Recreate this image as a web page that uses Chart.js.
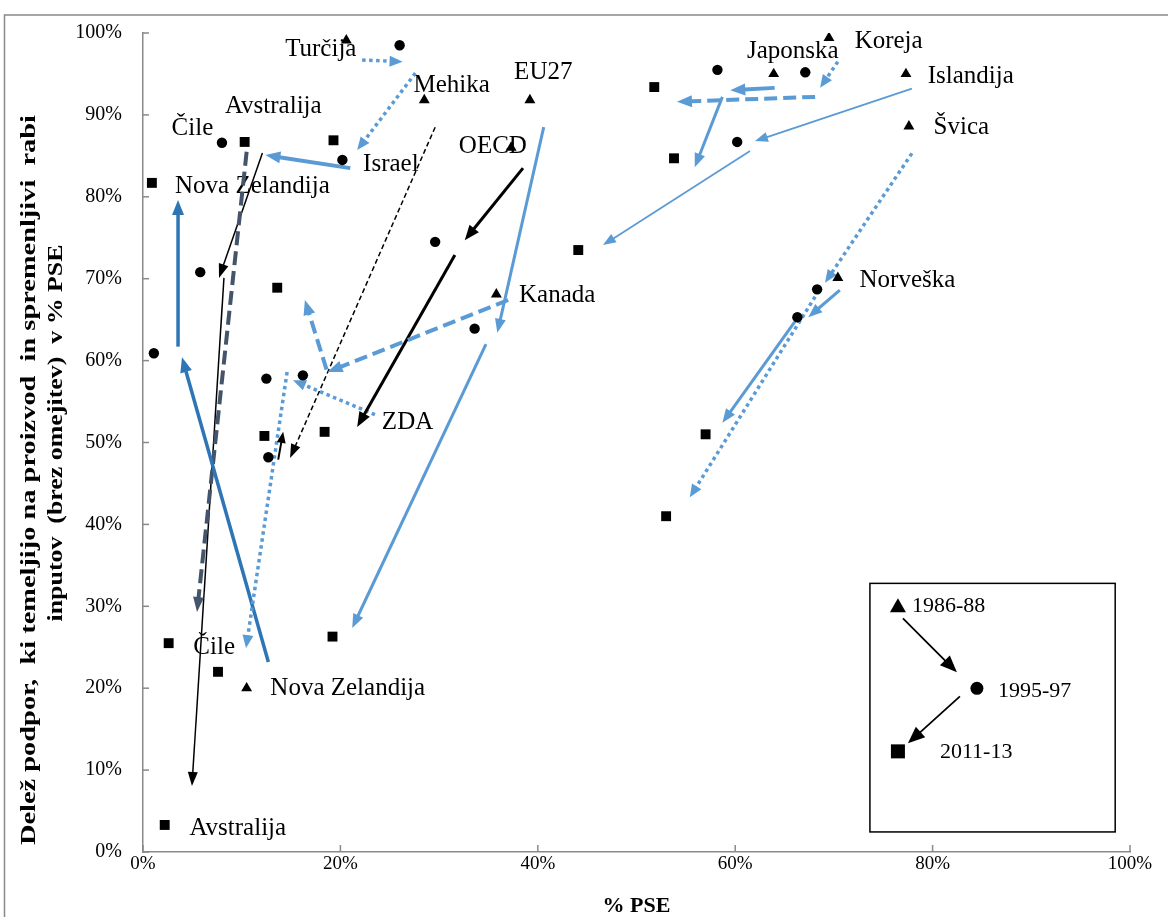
<!DOCTYPE html>
<html><head><meta charset="utf-8">
<script src="https://cdn.jsdelivr.net/npm/chart.js@4.4.0/dist/chart.umd.min.js"></script>
<style>html,body{margin:0;padding:0;background:#fff}canvas{display:block}</style>
</head><body>
<canvas id="c" width="1168" height="917"></canvas>
<script>
// ---- tick values ----
const xTickValues = [0, 20, 40, 60, 80, 100];
const yTickValues = [0, 10, 20, 30, 40, 50, 60, 70, 80, 90, 100];

// ---- markers (x = % PSE, y = share %) ----
const p1986X = [20.6, 28.5, 39.2, 37.3, 69.5, 63.9, 77.3, 77.6, 70.4, 35.8, 10.5];
const p1986Y = [99.1, 91.8, 91.8, 86.0, 99.4, 95.0, 95.0, 88.6, 70.1, 68.1, 20.0];
const p1995X = [26.0, 8.0, 20.2, 5.8, 1.1, 12.5, 16.2, 12.7, 29.6, 33.6, 58.2, 67.1, 60.2, 68.3, 66.3];
const p1995Y = [98.5, 86.6, 84.5, 70.8, 60.9, 57.8, 58.2, 48.2, 74.5, 63.9, 95.5, 95.2, 86.7, 68.7, 65.3];
const p2011X = [0.9, 10.3, 19.3, 13.6, 12.3, 18.4, 19.2, 2.6, 7.6, 2.2, 44.1, 51.8, 53.8, 57.0, 53.0];
const p2011Y = [81.7, 86.7, 86.9, 68.9, 50.8, 51.3, 26.3, 25.5, 22.0, 3.3, 73.5, 93.4, 84.7, 51.0, 41.0];

// ---- arrows (from -> to, in data units) ----
const arrowFromX = [22.2, 27.6, 21.0, 12.1, 8.2, 10.5, 12.7, 3.55, 23.5, 14.6, 13.7, 29.6, 38.5, 31.6, 37.0, 18.6, 40.6, 34.75, 64.0, 58.7, 70.4, 68.1, 77.9, 61.5, 77.9, 68.1, 70.6, 66.3];
const arrowFromY = [96.7, 95.1, 83.5, 85.35, 70.1, 85.5, 23.2, 61.7, 53.4, 58.6, 47.9, 88.5, 83.5, 72.9, 67.4, 58.9, 88.5, 62.0, 93.3, 92.2, 96.5, 92.2, 93.2, 85.6, 85.3, 67.8, 68.6, 65.2];
const arrowToX   = [26.3, 21.7, 12.4, 7.7, 4.96, 5.47, 3.95, 3.55, 15.2, 10.44, 14.2, 14.9, 32.6, 21.7, 18.7, 16.4, 35.9, 21.2, 59.5, 55.9, 68.6, 54.1, 62.0, 46.6, 69.1, 55.4, 67.4, 58.7];
const arrowToY   = [96.5, 85.7, 85.1, 70.1, 8.06, 29.3, 60.4, 79.6, 57.6, 24.9, 51.3, 48.1, 74.7, 51.9, 58.6, 67.4, 63.4, 27.35, 93.0, 83.6, 93.3, 91.6, 86.8, 74.1, 69.5, 43.3, 65.3, 52.4];
const arrowKind  = ['dotLB','dotLB','solidLB4','thinBlack','thinBlack','dashSlate','solidMB','solidMB','dotLB','dotLB','smallBlack','dashBlack','solidBlack','solidBlack','dashLB','dashLB','solidLB3','solidLB3','solidLB4','solidLB3','dotLB','dashLB','thinLB','thinLB','dotLB','dotLB','solidLB3','solidLB3'];

// ---- country labels ----
const labelText = ['Turčija','Mehika','EU27','Avstralija','Čile','OECD','Israel','Nova Zelandija','Japonska','Koreja','Islandija','Švica','Norveška','Kanada','ZDA','Čile','Nova Zelandija','Avstralija'];
const labelX = [14.4, 27.4, 37.6, 8.3, 2.9, 32.0, 22.3, 3.24, 61.2, 72.1, 79.5, 80.1, 72.6, 38.1, 24.2, 5.1, 12.9, 4.7];
const labelY = [98.0, 93.6, 95.2, 91.0, 88.4, 86.1, 84.0, 81.3, 97.7, 99.0, 94.7, 88.5, 69.8, 68.0, 52.4, 25.0, 20.0, 2.9];

const seriesNames = ['1986-88', '1995-97', '2011-13'];
const yTitleLines = ['Delež podpor,  ki temeljijo na proizvod  in spremenljivi  rabi', 'inputov  (brez omejitev)  v % PSE'];
const xTitle = '% PSE';

// ---- styles ----
const LB = '#5B9BD5', MB = '#2E75B6', SL = '#44546A';
const STY = {
  dotLB:      {color: LB, w: 3.5, dash: [3.5, 3.5], len: 13, wid: 11},
  solidLB4:   {color: LB, w: 4,   dash: [],         len: 15, wid: 12},
  solidLB3:   {color: LB, w: 3,   dash: [],         len: 14, wid: 11},
  thinLB:     {color: LB, w: 1.75,dash: [],         len: 13, wid: 10},
  dashLB:     {color: LB, w: 4,   dash: [13, 6],    len: 15, wid: 12},
  dashSlate:  {color: SL, w: 4,   dash: [14, 6],    len: 15, wid: 11},
  solidMB:    {color: MB, w: 3.5, dash: [],         len: 15, wid: 12},
  thinBlack:  {color: '#000', w: 1.5, dash: [],     len: 14, wid: 10},
  dashBlack:  {color: '#000', w: 1.5, dash: [5, 3], len: 14, wid: 10},
  solidBlack: {color: '#000', w: 3,   dash: [],     len: 15, wid: 12},
  smallBlack: {color: '#000', w: 2,   dash: [],     len: 11, wid: 9}
};
const SERIF = '"Liberation Serif", "Times New Roman", serif';
const AXIS_GREY = '#898989';

function pts(xs, ys) { return xs.map((x, i) => ({x: x, y: ys[i]})); }

function drawArrow(ctx, x1, y1, x2, y2, s) {
  const dx = x2 - x1, dy = y2 - y1, L = Math.hypot(dx, dy);
  const ux = dx / L, uy = dy / L, px = -uy, py = ux;
  const bx = x2 - ux * s.len, by = y2 - uy * s.len;
  ctx.save();
  ctx.strokeStyle = s.color; ctx.fillStyle = s.color;
  ctx.lineWidth = s.w; ctx.lineCap = 'butt';
  ctx.setLineDash(s.dash);
  ctx.beginPath(); ctx.moveTo(x1, y1); ctx.lineTo(bx + ux, by + uy); ctx.stroke();
  ctx.setLineDash([]);
  ctx.beginPath();
  ctx.moveTo(x2, y2);
  ctx.lineTo(bx + px * s.wid / 2, by + py * s.wid / 2);
  ctx.lineTo(bx - px * s.wid / 2, by - py * s.wid / 2);
  ctx.closePath(); ctx.fill();
  ctx.restore();
}

function drawStretched(ctx, text, cx, cy, len, rot) {
  ctx.save();
  ctx.translate(cx, cy);
  ctx.rotate(rot);
  const w = ctx.measureText(text).width;
  ctx.scale(len / w, 1);
  ctx.textAlign = 'center'; ctx.textBaseline = 'middle';
  ctx.fillText(text, 0, 0);
  ctx.restore();
}

const decorPlugin = {
  id: 'decor',
  beforeDraw(chart) {
    const ctx = chart.ctx;
    ctx.save(); ctx.fillStyle = '#fff'; ctx.fillRect(0, 0, chart.width, chart.height); ctx.restore();
  },
  beforeDatasetsDraw(chart) {
    const ctx = chart.ctx, xs = chart.scales.x, ys = chart.scales.y;
    // country labels
    ctx.save();
    ctx.font = '25px ' + SERIF; ctx.fillStyle = '#000';
    ctx.textAlign = 'left'; ctx.textBaseline = 'middle';
    labelText.forEach((t, i) => ctx.fillText(t, xs.getPixelForValue(labelX[i]), ys.getPixelForValue(labelY[i])));
    ctx.restore();
    // arrows
    arrowKind.forEach((k, i) => {
      drawArrow(ctx,
        xs.getPixelForValue(arrowFromX[i]), ys.getPixelForValue(arrowFromY[i]),
        xs.getPixelForValue(arrowToX[i]), ys.getPixelForValue(arrowToY[i]), STY[k]);
    });
  },
  afterDraw(chart) {
    const ctx = chart.ctx, xs = chart.scales.x, ys = chart.scales.y, ca = chart.chartArea;
    // inside tick marks
    ctx.save();
    ctx.strokeStyle = AXIS_GREY; ctx.lineWidth = 1.5;
    ys.ticks.forEach(t => { const y = ys.getPixelForValue(t.value); ctx.beginPath(); ctx.moveTo(ca.left, y); ctx.lineTo(ca.left + 6, y); ctx.stroke(); });
    xs.ticks.forEach(t => { const x = xs.getPixelForValue(t.value); ctx.beginPath(); ctx.moveTo(x, ca.bottom); ctx.lineTo(x, ca.bottom - 7); ctx.stroke(); });
    // chart frame
    ctx.beginPath(); ctx.moveTo(4.5, chart.height); ctx.lineTo(4.5, 15); ctx.lineTo(chart.width, 15); ctx.stroke();
    ctx.restore();

    // axis titles
    ctx.save();
    ctx.fillStyle = '#000';
    ctx.font = 'bold 21px ' + SERIF;
    drawStretched(ctx, yTitleLines[0], 30, 480, 730, -Math.PI / 2);
    drawStretched(ctx, yTitleLines[1], 57, 433, 377, -Math.PI / 2);
    ctx.font = 'bold 22px ' + SERIF;
    ctx.textAlign = 'center'; ctx.textBaseline = 'middle';
    ctx.fillText(xTitle, (ca.left + ca.right) / 2, 906);
    ctx.restore();

    // legend box (positioned in data units inside the plot)
    const L = xs.getPixelForValue(73.65), R = xs.getPixelForValue(98.5);
    const T = ys.getPixelForValue(32.8), B = ys.getPixelForValue(2.45);
    ctx.save();
    ctx.fillStyle = '#fff'; ctx.fillRect(L, T, R - L, B - T);
    ctx.strokeStyle = '#000'; ctx.lineWidth = 1.5; ctx.strokeRect(L, T, R - L, B - T);
    ctx.fillStyle = '#000';
    // triangle
    const tx = L + 28, ty = T + 23;
    ctx.beginPath(); ctx.moveTo(tx, ty - 8); ctx.lineTo(tx + 8, ty + 6); ctx.lineTo(tx - 8, ty + 6); ctx.closePath(); ctx.fill();
    // circle
    ctx.beginPath(); ctx.arc(L + 107, T + 105, 6.5, 0, Math.PI * 2); ctx.fill();
    // square
    ctx.fillRect(L + 21, T + 161, 14, 14);
    ctx.font = '22px ' + SERIF; ctx.textAlign = 'left'; ctx.textBaseline = 'middle';
    ctx.fillText(seriesNames[0], L + 42, T + 23);
    ctx.fillText(seriesNames[1], L + 128, T + 108);
    ctx.fillText(seriesNames[2], L + 70, T + 169);
    ctx.restore();
    const legSty = {color: '#000', w: 1.75, dash: [], len: 17, wid: 14};
    drawArrow(ctx, L + 33, T + 35, L + 87, T + 89, legSty);
    drawArrow(ctx, L + 90, T + 113, L + 38, T + 160, legSty);
  }
};

new Chart(document.getElementById('c'), {
  type: 'scatter',
  data: {
    datasets: [
      {label: seriesNames[0], data: pts(p1986X, p1986Y), pointStyle: 'triangle', pointRadius: 6.3, pointBorderWidth: 0, backgroundColor: '#000', borderColor: '#000'},
      {label: seriesNames[1], data: pts(p1995X, p1995Y), pointStyle: 'circle', pointRadius: 5.2, pointBorderWidth: 0, backgroundColor: '#000', borderColor: '#000'},
      {label: seriesNames[2], data: pts(p2011X, p2011Y), pointStyle: 'rect', pointRadius: 7, pointBorderWidth: 0, backgroundColor: '#000', borderColor: '#000'}
    ]
  },
  options: {
    responsive: false,
    animation: false,
    events: [],
    layout: {padding: {left: 0, top: 33, right: 38, bottom: 0}},
    plugins: {legend: {display: false}, tooltip: {enabled: false}, title: {display: false}},
    scales: {
      x: {
        type: 'linear', min: 0, max: 100,
        afterBuildTicks: s => { s.ticks = xTickValues.map(v => ({value: v})); },
        afterFit: s => { s.height = 65; },
        grid: {display: false, drawTicks: false},
        border: {display: true, color: AXIS_GREY, width: 1.5},
        ticks: {color: '#000', font: {family: SERIF, size: 19}, padding: 1, callback: v => v + '%', maxRotation: 0, autoSkip: false}
      },
      y: {
        type: 'linear', min: 0, max: 100,
        afterBuildTicks: s => { s.ticks = yTickValues.map(v => ({value: v})); },
        afterFit: s => { s.width = 143; },
        grid: {display: false, drawTicks: false},
        border: {display: true, color: AXIS_GREY, width: 1.5},
        ticks: {color: '#000', font: {family: SERIF, size: 20}, padding: 21, callback: v => v + '%', autoSkip: false}
      }
    }
  },
  plugins: [decorPlugin]
});
</script>
</body></html>
